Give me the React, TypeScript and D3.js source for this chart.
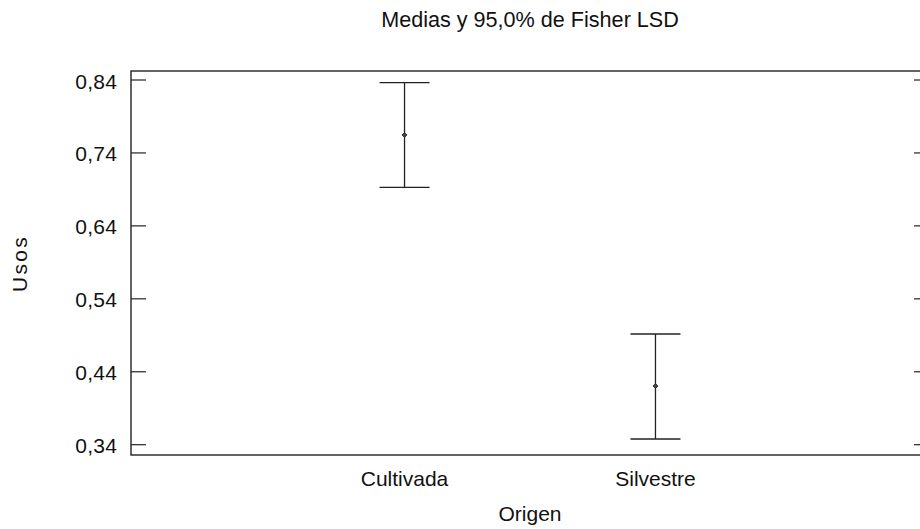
import React from "react";
import * as d3 from "d3";

const categories = ["Cultivada", "Silvestre"];
const means = [0.7646, 0.4205];
const lower = [0.6929, 0.3478];
const upper = [0.8363, 0.4918];
const yTicks = [0.34, 0.44, 0.54, 0.64, 0.74, 0.84];

const title = "Medias y 95,0% de Fisher LSD";
const xTitle = "Origen";
const yTitle = "Usos";

const W = 920;
const H = 529;
const left = 131;
const right = 929;
const top = 71;
const bottom = 455;
const FONT = "'Liberation Sans', Arial, sans-serif";
const INK = "#222";

export default function App() {
  const x = d3.scalePoint<string>().domain(categories).range([left, right]).padding(1.09);
  const y = d3.scaleLinear().domain([0.32588, 0.85234]).range([bottom, top]);
  const fmt = (v: number) => d3.format(".2f")(v).replace(".", ",");

  return (
    <svg width={W} height={H} style={{ position: "absolute", left: 0, top: 0, background: "#fff" }}>
      <rect x={0} y={0} width={W} height={H} fill="#fff" />
      <text x={530} y={27} textAnchor="middle" fontFamily={FONT} fontSize={21.6} fill="#111">
        {title}
      </text>
      {/* frame */}
      <rect x={left} y={top} width={right - left} height={bottom - top} fill="none" stroke={INK} strokeWidth={1.4} />
      {yTicks.map((t) => (
        <g key={t}>
          <line x1={left} x2={left + 15} y1={y(t)} y2={y(t)} stroke={INK} strokeWidth={1.2} />
          <line x1={right - 15} x2={right} y1={y(t)} y2={y(t)} stroke={INK} strokeWidth={1.2} />
          <text
            x={117.3}
            y={y(t) + 8.5}
            textAnchor="end"
            fontFamily={FONT}
            fontSize={21}
            letterSpacing={0.3}
            fill="#111"
          >
            {fmt(t)}
          </text>
        </g>
      ))}
      {categories.map((c, i) => {
        const cx = x(c)!;
        return (
          <g key={c}>
            <line x1={cx} x2={cx} y1={y(upper[i])} y2={y(lower[i])} stroke={INK} strokeWidth={1.3} />
            <line x1={cx - 25} x2={cx + 25} y1={y(upper[i])} y2={y(upper[i])} stroke={INK} strokeWidth={1.3} />
            <line x1={cx - 25} x2={cx + 25} y1={y(lower[i])} y2={y(lower[i])} stroke={INK} strokeWidth={1.3} />
            <path
              d={`M${cx},${y(means[i]) - 2.5} L${cx + 2.5},${y(means[i])} L${cx},${y(means[i]) + 2.5} L${cx - 2.5},${y(means[i])} Z`}
              fill="#444"
              stroke={INK}
              strokeWidth={0.8}
            />
            <text x={cx} y={486} textAnchor="middle" fontFamily={FONT} fontSize={21} fill="#111">
              {c}
            </text>
          </g>
        );
      })}
      <text x={530} y={521} textAnchor="middle" fontFamily={FONT} fontSize={21} fill="#111">
        {xTitle}
      </text>
      <text
        transform={`translate(26.5,263.5) rotate(-90)`}
        textAnchor="middle"
        fontFamily={FONT}
        fontSize={21}
        letterSpacing={2.3}
        fill="#111"
      >
        {yTitle}
      </text>
    </svg>
  );
}
